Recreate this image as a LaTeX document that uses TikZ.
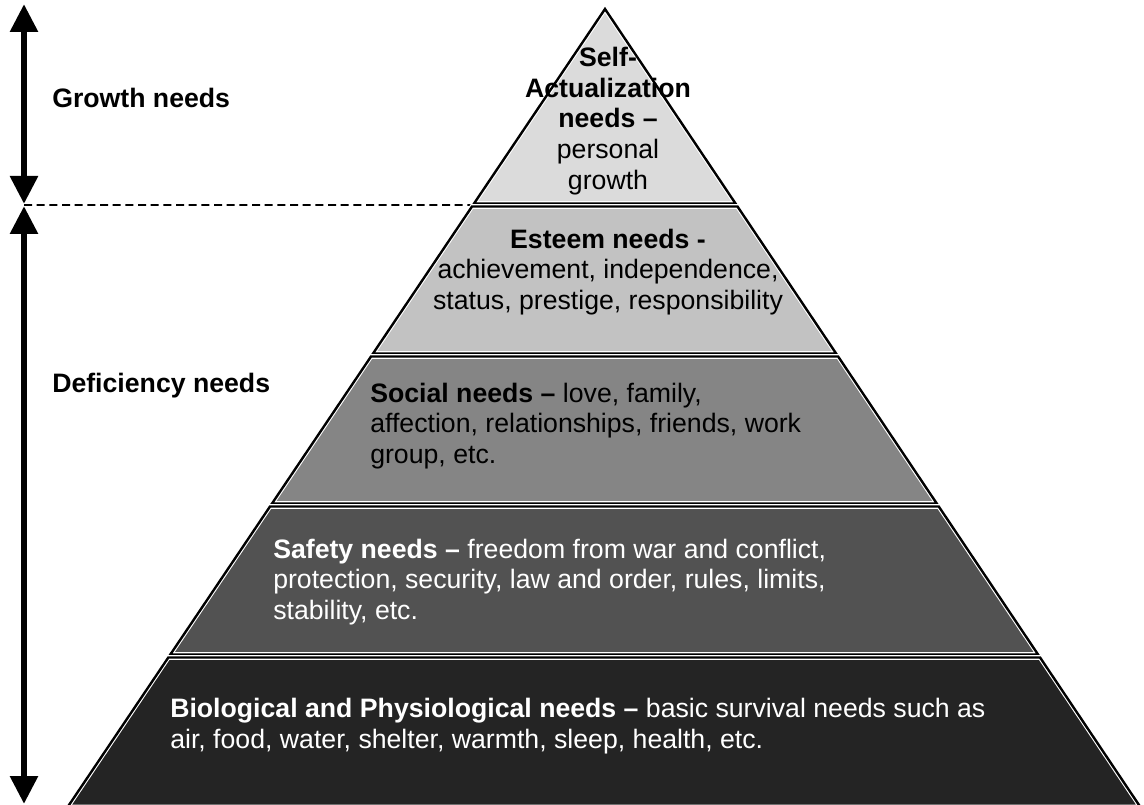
\documentclass[tikz,border=0pt]{standalone}
\usepackage{fontspec}
\setmainfont{Liberation Sans}
\usetikzlibrary{arrows.meta,calc}
\definecolor{cInk}{RGB}{0,0,0}

\begin{document}
\begin{tikzpicture}[
  x=0.75pt, y=-0.75pt, font=\fontsize{20}{23}\selectfont, color=cInk,
  tier/.style   ={fill=black!#1,
                  postaction={draw=white, line width=3.4pt, line join=miter},
                  postaction={draw=cInk,  line width=1.8pt, line join=miter}},
  bigarrow/.style={{Triangle[length=21pt,width=20pt]}-{Triangle[length=21pt,width=20pt]},
                  line width=5pt},
  split/.style  ={draw=cInk, line width=1.3pt, dash pattern=on 6pt off 3.5pt},
  lbl/.style    ={inner sep=0pt, align=left, anchor=west},
  ctr/.style    ={inner sep=0pt, align=center},
]
\useasboundingbox (0,0) rectangle (1144,805);

% ----- geometry --------------------------------------------------------
\coordinate (apex) at (605,9);
\coordinate (bl)   at (69,805);
\coordinate (br)   at (1139,805);

% ----- growth / deficiency split ---------------------------------------
\coordinate (split0) at (24,205);
\coordinate (split1) at ($(apex)!{196/796}!(bl)$);
\draw[split] (split0) -- (split1);

% ----- pyramid tiers ---------------------------------------------------
\foreach \ya/\yb/\shade in {9/203.5/14, 206.5/353.5/24, 356.5/503.5/48,
                             506.5/654.5/68, 657.5/807/86}{
  \coordinate (L1) at ($(apex)!{(\ya-9)/796}!(bl)$);
  \coordinate (L2) at ($(apex)!{(\yb-9)/796}!(bl)$);
  \coordinate (R1) at ($(apex)!{(\ya-9)/796}!(br)$);
  \coordinate (R2) at ($(apex)!{(\yb-9)/796}!(br)$);
  \path[tier=\shade] (L1) -- (L2) -- (R2) -- (R1) -- cycle;
}

% ----- tier texts ------------------------------------------------------
\node[ctr] (selfact) at (608,121)
      {\textbf{Self-}\\\textbf{Actualization}\\\textbf{needs --}\\personal\\growth};
\node[ctr] (esteem) at (608,272)
      {\textbf{Esteem needs -}\\achievement, independence,\\status, prestige, responsibility};
\node[lbl] (social) at (370,426)
      {\textbf{Social needs --} love, family,\\affection, relationships, friends, work\\group, etc.};
\node[lbl,white] (safety) at (273,582)
      {\textbf{Safety needs --} freedom from war and conflict,\\protection, security, law and order, rules, limits,\\stability, etc.};
\node[lbl,white] (bio) at (170,726)
      {\textbf{Biological and Physiological needs --} basic survival needs such as\\air, food, water, shelter, warmth, sleep, health, etc.};

% ----- side arrows and labels ------------------------------------------
\coordinate (gTop) at (24,4);
\coordinate (gBot) at (24,204);
\coordinate (dTop) at (24,206);
\coordinate (dBot) at (24,804);
\draw[bigarrow] (gTop) -- (gBot);
\draw[bigarrow] (dTop) -- (dBot);

\node[lbl,font=\fontsize{20}{23}\selectfont\bfseries] (growth) at (52,98) {Growth needs};
\node[lbl,font=\fontsize{20}{23}\selectfont\bfseries] (deficiency) at (52,386) {Deficiency needs};

\end{tikzpicture}
\end{document}
